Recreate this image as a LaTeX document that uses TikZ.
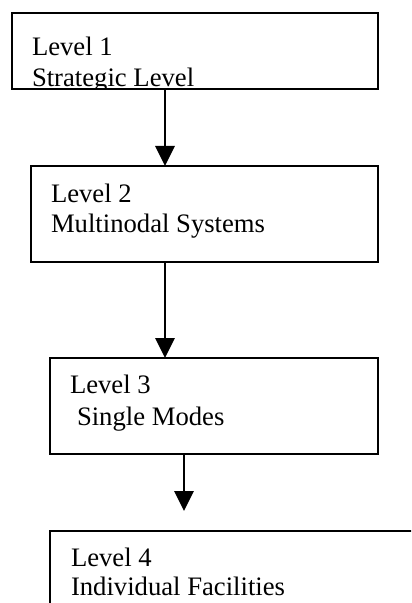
\documentclass[tikz,border=0pt]{standalone}
\usepackage{fontspec}
\setmainfont{Liberation Serif}
\usetikzlibrary{arrows.meta}
\begin{document}
\begin{tikzpicture}[x=0.45pt,y=-0.45pt,
  box/.style={draw, line width=0.9pt, rectangle, inner sep=0pt, outer sep=0pt},
  lbl/.style={anchor=base west, inner sep=0pt, outer sep=0pt, font=\fontsize{12}{14}\selectfont},
  arr/.style={line width=0.9pt, -{Triangle[width=8.7pt,length=9pt]}}]
\useasboundingbox (0,0) rectangle (411,603);
\clip (0,0) rectangle (411,603);
% boxes
\node[box, minimum width=366*0.45pt, minimum height=76*0.45pt] (b1) at (195,51) {};
\node[box, minimum width=347*0.45pt, minimum height=96*0.45pt] (b2) at (204.5,214) {};
\node[box, minimum width=328*0.45pt, minimum height=96*0.45pt] (b3) at (214,406) {};
\node[box, minimum width=400*0.45pt, minimum height=100*0.45pt] (b4) at (250,581) {};
% labels
\begin{scope}
\clip (b1.north west) rectangle (b1.south east);
\node[lbl] (t1a) at (32,56) {Level 1};
\node[lbl] (t1b) at (32,86.5) {Strategic Level};
\end{scope}
\node[lbl] (t2a) at (51,203) {Level 2};
\node[lbl] (t2b) at (51,233) {Multinodal Systems};
\node[lbl] (t3a) at (70,393) {Level 3};
\node[lbl] (t3b) at (77,425) {Single Modes};
\node[lbl] (t4a) at (71,566) {Level 4};
\node[lbl] (t4b) at (71,595) {Individual Facilities};
% connectors
\coordinate (x1) at (165,0);
\coordinate (x3) at (184,0);
\coordinate (e3) at (184,511);
\draw[arr] (b1.south -| x1) -- (b2.north -| x1);
\draw[arr] (b2.south -| x1) -- (b3.north -| x1);
\draw[arr] (b3.south -| x3) -- (e3);
\end{tikzpicture}
\end{document}
